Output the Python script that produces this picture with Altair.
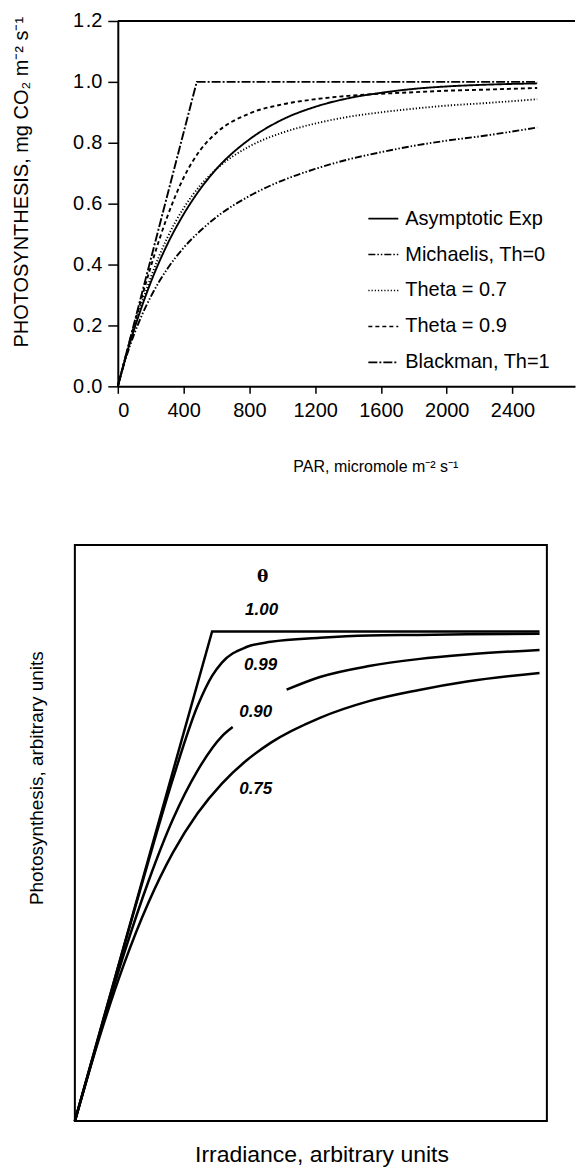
import altair as alt
import pandas as pd

FONT = "Liberation Sans"

# ---------------- top panel data ----------------
PAR = [0, 50, 100, 150, 200, 300, 400, 500, 600, 800, 1000, 1200, 1400, 1600, 1800, 2000, 2200, 2550]
ASYMP = [0, 0.099, 0.188, 0.268, 0.341, 0.465, 0.565, 0.647, 0.714, 0.811, 0.876, 0.918, 0.946, 0.964, 0.977, 0.985, 0.990, 0.995]
MICHAELIS = [0, 0.094, 0.172, 0.238, 0.294, 0.385, 0.455, 0.510, 0.556, 0.625, 0.676, 0.714, 0.745, 0.769, 0.790, 0.807, 0.821, 0.850]
THETA07 = [0, 0.101, 0.194, 0.280, 0.357, 0.487, 0.585, 0.659, 0.714, 0.788, 0.833, 0.863, 0.885, 0.900, 0.912, 0.922, 0.929, 0.943]
THETA09 = [0, 0.103, 0.203, 0.300, 0.392, 0.556, 0.685, 0.775, 0.833, 0.896, 0.926, 0.943, 0.954, 0.961, 0.966, 0.971, 0.974, 0.980]
BLACKMAN_PAR = [0, 480, 2550]
BLACKMAN = [0.0, 1.0, 1.0]

SERIES = ["Asymptotic Exp", "Michaelis, Th=0", "Theta = 0.7", "Theta = 0.9", "Blackman, Th=1"]
DASHES = [[1, 0], [7, 2, 1.5, 2, 1.5, 2], [1.2, 2], [4, 3], [9, 2, 2, 2]]

X_TICKS = [0, 200, 400, 600, 800, 1000, 1200, 1400, 1600, 1800, 2000, 2200, 2400]
Y_TICKS = [0.0, 0.1, 0.2, 0.3, 0.4, 0.5, 0.6, 0.7, 0.8, 0.9, 1.0, 1.1, 1.2]
X_MAX = 2780

# ---------------- bottom panel data ----------------
IRR = [0, 5, 10, 15, 20, 25, 28, 30, 35, 40, 50, 60, 70, 80, 94.8]
TH099 = [0, 15.2, 30.3, 45.1, 59.4, 72.0, 77.3, 79.6, 82.3, 83.2, 83.9, 84.3, 84.4, 84.5, 84.6]
IRR075 = [0, 5, 10, 15, 20, 25, 30, 35, 40, 50, 60, 70, 80, 94.8]
TH075 = [0, 14.5, 27.2, 37.9, 46.6, 53.4, 58.6, 62.6, 65.7, 70.0, 72.9, 74.8, 76.3, 77.8]
IRR090_LOW = [0, 5, 10, 15, 20, 25, 30, 32.2]
TH090_LOW = [0, 14.9, 29.0, 41.6, 52.4, 60.8, 66.8, 68.4]
IRR090_UP = [43.2, 50, 60, 70, 80, 94.8]
TH090_UP = [74.9, 77.1, 79.0, 80.2, 81.0, 81.8]
IRR100 = [0, 28, 94.8]
TH100 = [0, 85, 85]
FRAME_X = [0, 96.3]
FRAME_Y = [0, 100]

LABELS = ["θ", "1.00", "0.99", "0.90", "0.75"]
LABEL_X = [38.3, 38.1, 37.9, 36.9, 36.9]
LABEL_Y = [94.4, 88.7, 79.1, 71.0, 57.7]
LABEL_STYLE = ["normal", "italic", "italic", "italic", "italic"]

# ---------------- build tables ----------------
rows = []
for name, vals in zip(SERIES[:4], [ASYMP, MICHAELIS, THETA07, THETA09]):
    for p, v in zip(PAR, vals):
        rows.append({"par": p, "ps": v, "series": name})
smooth_top = pd.DataFrame(rows)
black_top = pd.DataFrame({"par": BLACKMAN_PAR, "ps": BLACKMAN, "series": SERIES[4]})
frame_top = pd.DataFrame({"x0": [0], "x1": [X_MAX], "y": [1.2]})

dash_scale = alt.Scale(domain=SERIES, range=DASHES)

x_top = alt.X(
    "par:Q",
    scale=alt.Scale(domain=[0, X_MAX], nice=False, zero=False),
    axis=alt.Axis(
        values=X_TICKS, format="d",
        labelExpr="datum.value % 400 == 0 ? datum.label : ''",
        tickSize=7, tickWidth=1.5, tickColor="black",
        domainColor="black", domainWidth=2,
        labelFont=FONT, labelFontSize=20, labelColor="black", labelPadding=7,
        grid=False,
        title="PAR,  micromole m⁻² s⁻¹",
        titleFont=FONT, titleFontSize=16, titleFontWeight="normal", titleColor="black",
        titleX=258, titleY=80, titleBaseline="middle", titleAlign="center",
    ),
)
y_top = alt.Y(
    "ps:Q",
    scale=alt.Scale(domain=[0, 1.2], nice=False, zero=False),
    axis=alt.Axis(
        values=Y_TICKS,
        labelExpr="round(datum.value*10) % 2 == 0 ? replace(format(datum.value, '.1f'), '.', '\u200a.') : ''",
        tickSize=10, tickWidth=1.5, tickColor="black",
        domainColor="black", domainWidth=2,
        labelFont=FONT, labelFontSize=20, labelColor="black", labelPadding=6,
        grid=False,
        title="PHOTOSYNTHESIS,  mg CO₂ m⁻² s⁻¹",
        titleFont=FONT, titleFontSize=20, titleFontWeight="normal", titleColor="black",
        titleX=-96, titleY=161, titleAngle=270, titleBaseline="middle", titleAlign="center",
    ),
)

legend = alt.Legend(
    orient="none", legendX=250, legendY=182, title=None,
    symbolType="stroke", symbolSize=900, symbolStrokeWidth=1.6, symbolStrokeColor="black",
    labelFont=FONT, labelFontSize=20, labelColor="black", labelOffset=6,
    rowPadding=10, padding=0,
)

top_smooth = alt.Chart(smooth_top).mark_line(color="black", strokeWidth=1.9, interpolate="monotone").encode(
    x=x_top, y=y_top,
    strokeDash=alt.StrokeDash("series:N", scale=dash_scale, legend=legend, sort=SERIES),
    detail="series:N",
)
top_black = alt.Chart(black_top).mark_line(color="black", strokeWidth=1.9).encode(
    x="par:Q", y="ps:Q",
    strokeDash=alt.StrokeDash("series:N", scale=dash_scale, legend=None),
)
top_frame = alt.Chart(frame_top).mark_rule(color="black", strokeWidth=2).encode(
    x="x0:Q", x2="x1", y="y:Q"
)
top = alt.layer(top_smooth, top_black, top_frame).properties(width=458, height=366)

# ---------------- bottom ----------------
brow = []
for xs, ys, name in [(IRR, TH099, "0.99"), (IRR075, TH075, "0.75"),
                     (IRR090_LOW, TH090_LOW, "0.90a"), (IRR090_UP, TH090_UP, "0.90b")]:
    for a, b in zip(xs, ys):
        brow.append({"x": a, "y": b, "curve": name})
bot_smooth = pd.DataFrame(brow)
bot_lin = pd.DataFrame({"x": IRR100, "y": TH100, "curve": "1.00"})
bot_frame = pd.DataFrame({"x0": [FRAME_X[0]], "x1": [FRAME_X[1]], "y0": [FRAME_Y[0]], "y1": [FRAME_Y[1]]})
bot_labels = pd.DataFrame({"x": LABEL_X, "y": LABEL_Y, "t": LABELS, "s": LABEL_STYLE})

x_bot = alt.X(
    "x:Q",
    scale=alt.Scale(domain=[8.758, 100], nice=False, zero=False),
    axis=alt.Axis(
        domain=False, ticks=False, labels=False, grid=False,
        title="Irradiance, arbitrary units",
        titleFont=FONT, titleFontSize=23, titleFontWeight="normal", titleColor="black",
        titleX=204, titleY=34, titleBaseline="middle", titleAlign="center",
    ),
)
y_bot = alt.Y(
    "y:Q",
    scale=alt.Scale(domain=[0, 100], nice=False, zero=False),
    axis=alt.Axis(
        domain=False, ticks=False, labels=False, grid=False,
        title="Photosynthesis, arbitrary units",
        titleFont=FONT, titleFontSize=19, titleFontWeight="normal", titleColor="black",
        titleX=-81, titleY=233, titleAngle=270, titleBaseline="middle", titleAlign="center",
    ),
)

b_smooth = alt.Chart(bot_smooth).mark_line(color="black", strokeWidth=2.5, interpolate="monotone").encode(
    x=x_bot, y=y_bot, detail="curve:N"
)
b_lin = alt.Chart(bot_lin).mark_line(color="black", strokeWidth=2.5).encode(x="x:Q", y="y:Q")
b_frame = alt.Chart(bot_frame).mark_rect(fillOpacity=0, stroke="black", strokeWidth=2).encode(
    x="x0:Q", x2="x1", y="y0:Q", y2="y1"
)
b_theta = alt.Chart(bot_labels[bot_labels.s == "normal"]).mark_text(
    font="DejaVu Serif", fontSize=17, fontWeight="bold", color="black"
).encode(x="x:Q", y="y:Q", text="t:N")
b_nums = alt.Chart(bot_labels[bot_labels.s == "italic"]).mark_text(
    font=FONT, fontSize=17, fontStyle="italic", fontWeight="bold", color="black"
).encode(x="x:Q", y="y:Q", text="t:N")

bottom = alt.layer(b_frame, b_smooth, b_lin, b_theta, b_nums).properties(width=448, height=577)

chart = alt.vconcat(top, bottom, spacing=70).properties(
    padding={"left": 12, "top": 10, "right": 0, "bottom": 0},
    background="white",
).configure_view(strokeWidth=0)

chart.save("out.html", embed_options={"renderer": "svg", "actions": False})
